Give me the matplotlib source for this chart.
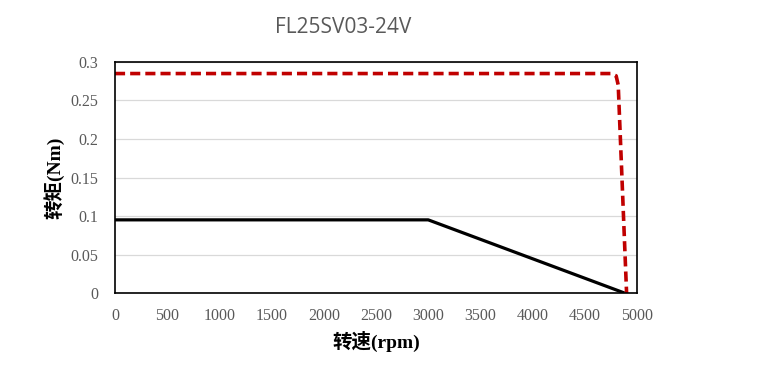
import matplotlib.pyplot as plt

# 数据
peak_speed = [0, 4750, 4800, 4820, 4900]
peak_torque = [0.285, 0.285, 0.282, 0.27, 0.0]
rated_speed = [0, 3000, 3040, 4880]
rated_torque = [0.095, 0.095, 0.093, 0.0]
xticks = [0, 500, 1000, 1500, 2000, 2500, 3000, 3500, 4000, 4500, 5000]
yticks = [0, 0.05, 0.1, 0.15, 0.2, 0.25, 0.3]
ytick_labels = ['0', '0.05', '0.1', '0.15', '0.2', '0.25', '0.3']

fig = plt.figure(figsize=(7.64, 3.71), dpi=100)
ax = fig.add_axes([0.1505, 0.2102, 0.6833, 0.6227])

ax.plot(rated_speed, rated_torque, color='black', lw=2.3, solid_capstyle='butt')
ax.plot(peak_speed, peak_torque, color='#c00000', lw=2.6, ls=(0, (2.8, 1.4)))

ax.set_xlim(0, 5000)
ax.set_ylim(0, 0.3)
ax.set_xticks(xticks)
ax.set_yticks(yticks)
ax.set_yticklabels(ytick_labels)
ax.tick_params(axis='x', length=0, pad=11, labelsize=11.5, labelcolor='#595959')
ax.tick_params(axis='y', length=0, pad=12, labelsize=11.5, labelcolor='#595959')
for lab in ax.get_xticklabels() + ax.get_yticklabels():
    lab.set_family('Liberation Serif')
ax.grid(axis='y', color='#d9d9d9', lw=0.9)
ax.set_axisbelow(True)
for s in ax.spines.values():
    s.set_color('black')
    s.set_linewidth(1.2)

cjk = ['Liberation Serif', 'Noto Sans CJK SC']
ax.set_xlabel('转速(rpm)', family=cjk, fontsize=14, fontweight='bold', labelpad=5)
ax.set_ylabel('转矩(Nm)', family=cjk, fontsize=14, fontweight='bold', labelpad=4)
fig.text(0.449, 0.925, 'FL25SV03-24V', ha='center', va='center',
         family='Open Sans', fontsize=15, color='#595959')

fig.savefig('out.png', dpi=100)
